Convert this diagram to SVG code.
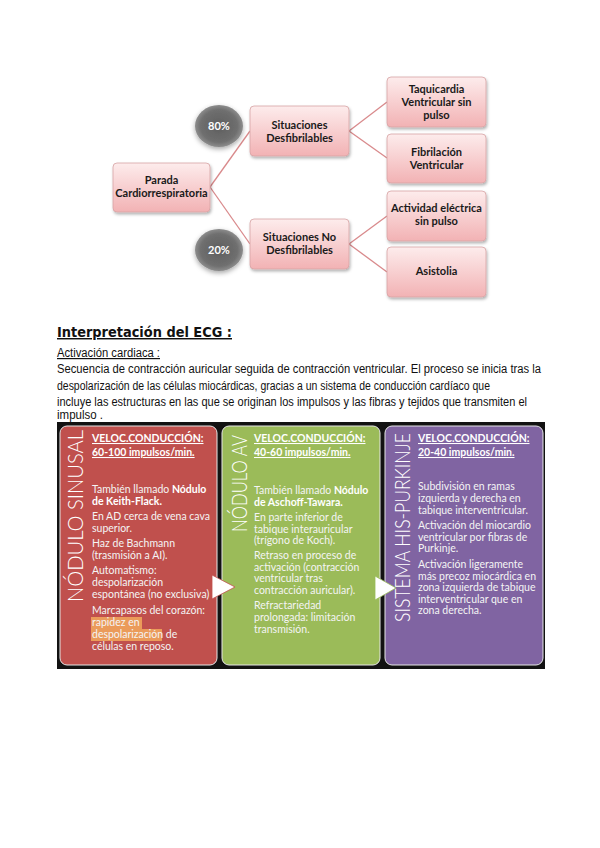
<svg xmlns="http://www.w3.org/2000/svg" width="600" height="848" viewBox="0 0 600 848">
<defs>
<linearGradient id="pink" x1="0" y1="0" x2="0" y2="1">
<stop offset="0" stop-color="#fdecec"/>
<stop offset="1" stop-color="#f2b2b4"/>
</linearGradient>
<radialGradient id="ball" cx="0.5" cy="0.5" r="0.55">
<stop offset="0" stop-color="#5e5e5e"/>
<stop offset="0.7" stop-color="#6f6f6f"/>
<stop offset="1" stop-color="#9a9a9a"/>
</radialGradient>
<filter id="sh" x="-20%" y="-20%" width="140%" height="150%">
<feDropShadow dx="1" dy="2" stdDeviation="1.5" flood-color="#000" flood-opacity="0.3"/>
</filter>
<filter id="glow" x="-40%" y="-40%" width="180%" height="180%">
<feDropShadow dx="0" dy="2" stdDeviation="2.5" flood-color="#000" flood-opacity="0.35"/>
</filter>
</defs>
<style>
.box{fill:url(#pink);stroke:#d7a3a5;stroke-width:0.8;filter:url(#sh)}
.bt{font-family:Lato,"Liberation Sans",sans-serif;font-weight:bold;font-size:11px;fill:#1a1a1a;text-anchor:middle}
.pct{font-family:Lato,"Liberation Sans",sans-serif;font-weight:bold;font-size:11px;fill:#fff;text-anchor:middle}
.ball{fill:url(#ball);filter:url(#glow)}
.con line{stroke:#d98a8c;stroke-width:1.3}
.body{font-family:Arial,"Liberation Sans",sans-serif;font-size:12px;fill:#111}
.pan{stroke:#e6e6e6;stroke-width:1}
.vt{font-family:Lato,"Open Sans",sans-serif;font-weight:300;font-size:21px;fill:#fff;text-anchor:middle}
.ph{font-family:Lato,"Liberation Sans",sans-serif;font-weight:bold;font-size:10.5px;fill:#fff;text-decoration:underline}
.pb{font-family:Lato,"Liberation Sans",sans-serif;font-size:10.5px;fill:#f4f4f4}
.pb .b{font-weight:bold;fill:#fff}
.tri{fill:#fff}
</style>

<g id="connectors" class="con">
<line x1="210" y1="187" x2="250" y2="131"/>
<line x1="210" y1="187" x2="250" y2="244"/>
<line x1="349" y1="131" x2="387" y2="102"/>
<line x1="349" y1="131" x2="387" y2="158"/>
<line x1="349" y1="244" x2="387" y2="216"/>
<line x1="349" y1="244" x2="387" y2="272"/>
</g>

<g id="p80"><ellipse class="ball" cx="219" cy="126" rx="24" ry="21"/><text class="pct" x="219" y="130">80%</text></g>
<g id="p20"><ellipse class="ball" cx="219" cy="250" rx="24" ry="21"/><text class="pct" x="219" y="254">20%</text></g>

<g id="parada"><rect class="box" x="113" y="163" width="97" height="49" rx="4"/>
<text class="bt" x="161.5" y="184">Parada</text><text class="bt" x="161.5" y="197">Cardiorrespiratoria</text></g>

<g id="desf"><rect class="box" x="250" y="106" width="99" height="50" rx="4"/>
<text class="bt" x="299.5" y="129">Situaciones</text><text class="bt" x="299.5" y="142">Desfibrilables</text></g>

<g id="nodesf"><rect class="box" x="250" y="219" width="99" height="50" rx="4"/>
<text class="bt" x="299.5" y="241">Situaciones No</text><text class="bt" x="299.5" y="254">Desfibrilables</text></g>

<g id="taqui"><rect class="box" x="387" y="77" width="99" height="50" rx="4"/>
<text class="bt" x="436.5" y="93">Taquicardia</text><text class="bt" x="436.5" y="106">Ventricular sin</text><text class="bt" x="436.5" y="119">pulso</text></g>

<g id="fibri"><rect class="box" x="387" y="134" width="99" height="49" rx="4"/>
<text class="bt" x="436.5" y="156">Fibrilación</text><text class="bt" x="436.5" y="169">Ventricular</text></g>

<g id="activ"><rect class="box" x="387" y="191" width="99" height="50" rx="4"/>
<text class="bt" x="436.5" y="212">Actividad eléctrica</text><text class="bt" x="436.5" y="225">sin pulso</text></g>

<g id="asist"><rect class="box" x="387" y="247" width="99" height="50" rx="4"/>
<text class="bt" x="436.5" y="275">Asistolia</text></g>

<g id="texto">
<text x="57" y="337" font-family="'DejaVu Sans',Verdana,sans-serif" font-weight="bold" font-size="14.5" fill="#111" text-decoration="underline" textLength="175" lengthAdjust="spacingAndGlyphs">Interpretación del ECG :</text>
<text class="body" x="57" y="357" text-decoration="underline" textLength="103" lengthAdjust="spacingAndGlyphs">Activación cardiaca :</text>
<text class="body" x="57" y="373" textLength="484" lengthAdjust="spacingAndGlyphs">Secuencia de contracción auricular seguida de contracción ventricular. El proceso se inicia tras la</text>
<text class="body" x="57" y="390" textLength="433" lengthAdjust="spacingAndGlyphs">despolarización de las células miocárdicas, gracias a un sistema de conducción cardíaco que</text>
<text class="body" x="57" y="406" textLength="470" lengthAdjust="spacingAndGlyphs">incluye las estructuras en las que se originan los impulsos y las fibras y tejidos que transmiten el</text>
<text class="body" x="57" y="419" textLength="46" lengthAdjust="spacingAndGlyphs">impulso .</text>
</g>

<rect x="57" y="422" width="488" height="247" fill="#121212"/>

<g id="sinusal">
<rect class="pan" x="60" y="426" width="157" height="239" rx="7" fill="#c0504d"/>
<text class="vt" transform="translate(83 516) rotate(-90)" textLength="172" lengthAdjust="spacingAndGlyphs">NÓDULO SINUSAL</text>
<text class="ph" x="92" y="442">VELOC.CONDUCCIÓN:</text>
<text class="ph" x="92" y="456">60-100 impulsos/min.</text>
<rect x="91" y="617" width="51" height="12" fill="#eb9b5a"/>
<rect x="91" y="629" width="71" height="12" fill="#eb9b5a"/>
<text class="pb" x="92">
<tspan x="92" y="493">También llamado <tspan class="b">Nódulo</tspan></tspan>
<tspan x="92" y="505" class="b">de Keith-Flack.</tspan>
<tspan x="92" y="520">En AD cerca de vena cava</tspan>
<tspan x="92" y="532">superior.</tspan>
<tspan x="92" y="547">Haz de Bachmann</tspan>
<tspan x="92" y="559">(trasmisión a AI).</tspan>
<tspan x="92" y="574">Automatismo:</tspan>
<tspan x="92" y="586">despolarización</tspan>
<tspan x="92" y="598">espontánea (no exclusiva)</tspan>
<tspan x="92" y="614">Marcapasos del corazón:</tspan>
<tspan x="92" y="626">rapidez en</tspan>
<tspan x="92" y="638">despolarización de</tspan>
<tspan x="92" y="650">células en reposo.</tspan>
</text>
</g>

<g id="av">
<rect class="pan" x="222" y="426" width="158" height="239" rx="7" fill="#9bbb59"/>
<text class="vt" transform="translate(247 483.5) rotate(-90)" textLength="97" lengthAdjust="spacingAndGlyphs">NÓDULO AV</text>
<text class="ph" x="254" y="442">VELOC.CONDUCCIÓN:</text>
<text class="ph" x="254" y="456">40-60 impulsos/min.</text>
<text class="pb">
<tspan x="254" y="494">También llamado <tspan class="b">Nódulo</tspan></tspan>
<tspan x="254" y="506" class="b">de Aschoff-Tawara.</tspan>
<tspan x="254" y="521">En parte inferior de</tspan>
<tspan x="254" y="532.5">tabique interauricular</tspan>
<tspan x="254" y="544">(trígono de Koch).</tspan>
<tspan x="254" y="559">Retraso en proceso de</tspan>
<tspan x="254" y="570.5">activación (contracción</tspan>
<tspan x="254" y="582">ventricular tras</tspan>
<tspan x="254" y="593.5">contracción auricular).</tspan>
<tspan x="254" y="609">Refractariedad</tspan>
<tspan x="254" y="621">prolongada: limitación</tspan>
<tspan x="254" y="633">transmisión.</tspan>
</text>
</g>

<g id="purkinje">
<rect class="pan" x="385" y="426" width="158" height="239" rx="7" fill="#8064a2"/>
<text class="vt" transform="translate(410 527.5) rotate(-90)" textLength="189" lengthAdjust="spacingAndGlyphs">SISTEMA HIS-PURKINJE</text>
<text class="ph" x="418" y="442">VELOC.CONDUCCIÓN:</text>
<text class="ph" x="418" y="456">20-40 impulsos/min.</text>
<text class="pb">
<tspan x="418" y="490">Subdivisión en ramas</tspan>
<tspan x="418" y="502">izquierda y derecha en</tspan>
<tspan x="418" y="513.5">tabique interventricular.</tspan>
<tspan x="418" y="529">Activación del miocardio</tspan>
<tspan x="418" y="540.5">ventricular por fibras de</tspan>
<tspan x="418" y="552">Purkinje.</tspan>
<tspan x="418" y="568">Activación ligeramente</tspan>
<tspan x="418" y="579.5">más precoz miocárdica en</tspan>
<tspan x="418" y="591">zona izquierda de tabique</tspan>
<tspan x="418" y="602.5">interventricular que en</tspan>
<tspan x="418" y="614">zona derecha.</tspan>
</text>
</g>

<g id="arrows">
<polygon class="tri" points="212,575 235,587 212,599" stroke="#c0504d" stroke-width="0.8"/>
<polygon class="tri" points="375,576 396,588 375,600" stroke="#9bbb59" stroke-width="0.8"/>
</g>
</svg>
